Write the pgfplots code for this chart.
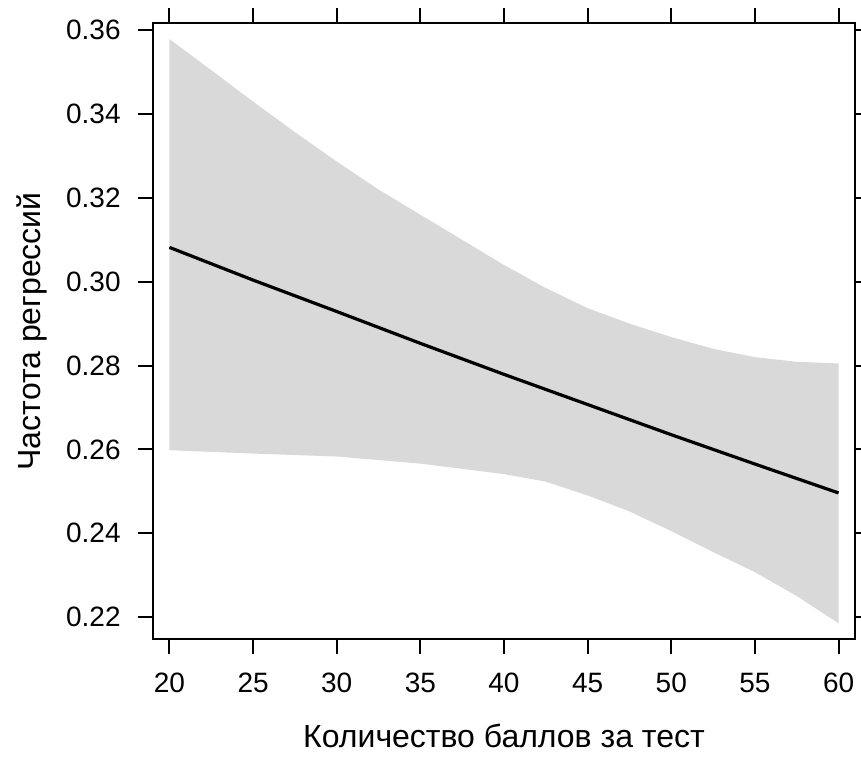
\documentclass[border=0pt]{standalone}
\usepackage{pgfplots}
\pgfplotsset{compat=1.18}
\usepackage{fontspec}
\setmainfont{Liberation Sans}
\definecolor{band}{HTML}{D9D9D9}
\begin{document}
\begin{tikzpicture}
\begin{axis}[
  scale only axis, width=351.3pt, height=308pt,
  xmin=19.0, xmax=61.0, ymin=0.214678, ymax=0.36167,
  xtick={20,25,30,35,40,45,50,55,60},
  ytick={0.22,0.24,0.26,0.28,0.30,0.32,0.34,0.36},
  yticklabels={0.22,0.24,0.26,0.28,0.30,0.32,0.34,0.36},
  xticklabels={20,25,30,35,40,45,50,55,60},
  tick align=outside, major tick length=7.5pt,
  tick style={line width=1pt, black},
  axis line style={line width=1pt, black},
  tick label style={font=\fontsize{14}{16}\selectfont, black},
  yticklabel style={xshift=-5pt},
  xticklabel style={yshift=-5.5pt, text height=10pt, text depth=0pt},
  every axis x label/.style={at={([yshift=-54.2pt]axis description cs:0.5,0)}, anchor=base, font=\fontsize{16}{19}\selectfont, black},
  every axis y label/.style={at={([xshift=-56.3pt]axis description cs:0,0.5)}, rotate=90, anchor=base, font=\fontsize{16}{19}\selectfont, black},
  xlabel={Количество баллов за тест},
  ylabel={Частота регрессий},
  clip=false,
]
\addplot[fill=band, draw=none] coordinates {
 (20,0.3579) (22.5,0.3505) (25,0.3430) (27.5,0.3357) (30,0.3287) (32.5,0.3220)
 (35,0.3160) (37.5,0.3100) (40,0.3040) (42.5,0.2985) (45,0.2937) (47.5,0.2900)
 (50,0.2868) (52.5,0.2840) (55,0.2820) (57.5,0.2809) (60,0.2805)
 (60,0.2185) (57.5,0.2250) (55,0.2307) (52.5,0.2355) (50,0.2405) (47.5,0.2452)
 (45,0.2490) (42.5,0.2523) (40,0.2541) (35,0.2566) (30,0.2583) (25,0.2590) (20,0.2598)
};
\addplot[black, line width=1.6pt] coordinates {
 (20,0.3082) (25,0.3004) (30,0.2929) (35,0.2853) (40,0.2779)
 (45,0.2707) (50,0.2635) (55,0.2565) (60,0.2496)
};
\end{axis}
\pgfresetboundingbox
\path[use as bounding box] (-76.35pt,-58.85pt) rectangle (354.15pt,319.65pt);
\end{tikzpicture}
\end{document}
